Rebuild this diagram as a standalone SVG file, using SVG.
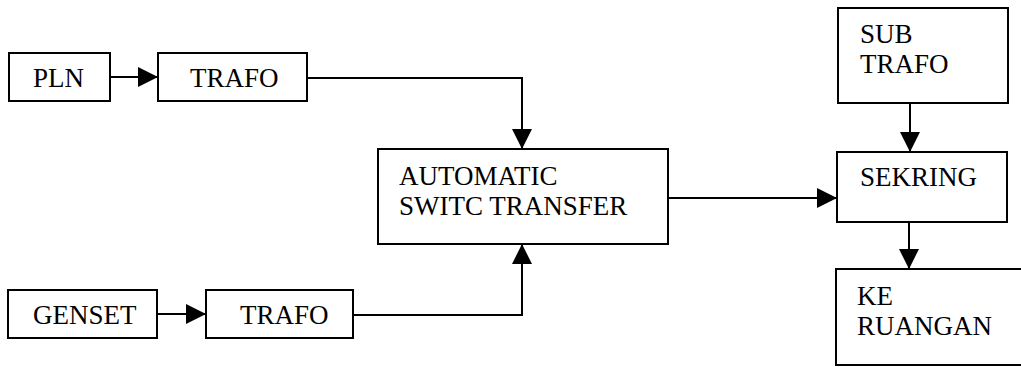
<svg xmlns="http://www.w3.org/2000/svg" width="1021" height="367" viewBox="0 0 1021 367">
  <style>
    .box { fill: #ffffff; stroke: #000000; stroke-width: 2; }
    .lbl { font-family: "Liberation Serif", "Times New Roman", serif; font-size: 27px; fill: #000000; }
    .wire { fill: none; stroke: #000000; stroke-width: 2; }
  </style>
  <defs>
    <marker id="head" viewBox="0 0 20 20" refX="20" refY="10" markerWidth="20" markerHeight="20" markerUnits="userSpaceOnUse" orient="auto">
      <path d="M0,0 L20,10 L0,20 Z" fill="#000000"/>
    </marker>
  </defs>
  <rect width="1021" height="367" fill="#ffffff"/>

  <g id="pln">
    <rect class="box" x="9" y="53" width="101" height="48"/>
    <text class="lbl" x="33" y="87">PLN</text>
  </g>
  <g id="trafo-top">
    <rect class="box" x="158" y="53" width="149" height="48"/>
    <text class="lbl" x="190" y="87">TRAFO</text>
  </g>
  <g id="genset">
    <rect class="box" x="8" y="290" width="149" height="48"/>
    <text class="lbl" x="33" y="324">GENSET</text>
  </g>
  <g id="trafo-bottom">
    <rect class="box" x="206" y="290" width="147" height="48"/>
    <text class="lbl" x="240" y="324">TRAFO</text>
  </g>
  <g id="ats">
    <rect class="box" x="378" y="149" width="290" height="95"/>
    <text class="lbl" x="399" y="185">AUTOMATIC</text>
    <text class="lbl" x="399" y="215">SWITC TRANSFER</text>
  </g>
  <g id="sub-trafo">
    <rect class="box" x="838" y="8" width="170" height="95"/>
    <text class="lbl" x="860" y="43">SUB</text>
    <text class="lbl" x="860" y="73">TRAFO</text>
  </g>
  <g id="sekring">
    <rect class="box" x="837" y="152" width="170" height="70"/>
    <text class="lbl" x="860" y="186">SEKRING</text>
  </g>
  <g id="ke-ruangan">
    <rect class="box" x="836" y="269" width="190" height="96"/>
    <text class="lbl" x="857" y="305">KE</text>
    <text class="lbl" x="857" y="335">RUANGAN</text>
  </g>

  <g id="connectors">
    <path class="wire" d="M110,77 L158,77" marker-end="url(#head)"/>
    <path class="wire" d="M157,314 L206,314" marker-end="url(#head)"/>
    <path class="wire" d="M307,78 L522,78 L522,149" marker-end="url(#head)"/>
    <path class="wire" d="M353,315 L522,315 L522,244" marker-end="url(#head)"/>
    <path class="wire" d="M668,198 L837,198" marker-end="url(#head)"/>
    <path class="wire" d="M910,103 L910,152" marker-end="url(#head)"/>
    <path class="wire" d="M909,222 L909,269" marker-end="url(#head)"/>
  </g>
</svg>
